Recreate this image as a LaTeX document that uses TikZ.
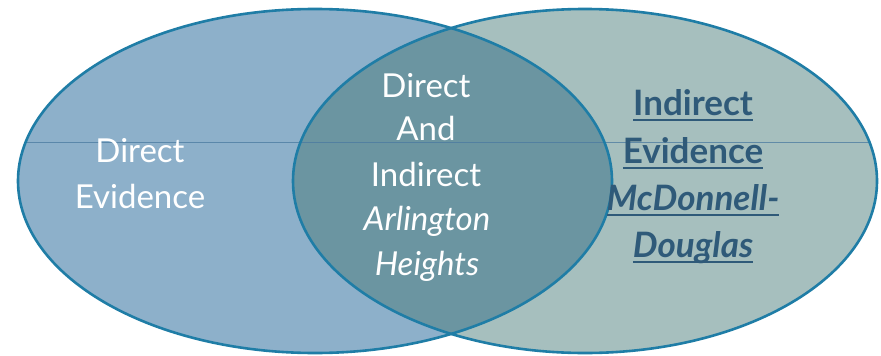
\documentclass[tikz,border=0pt]{standalone}
\usepackage{fontspec}
\setmainfont{Lato}
\definecolor{leftfill}{HTML}{8DB0CA}
\definecolor{rightfill}{HTML}{A6BFBE}
\definecolor{midfill}{HTML}{6B95A1}
\definecolor{edge}{HTML}{1F7DA6}
\definecolor{darktext}{HTML}{2F5A79}
\definecolor{midline}{HTML}{4A7AA0}
\newcommand{\myul}[1]{\setbox0\hbox{#1}\rlap{\rule[-6pt]{\wd0}{2.4pt}}\box0}
\tikzset{
  outline/.style={draw=edge, line width=2.6pt},
  lighttxt/.style={anchor=base, text=white, inner sep=0pt, font=\fontsize{33}{40}\selectfont},
  darktxt/.style={anchor=base, text=darktext, inner sep=0pt, font=\fontsize{35}{40}\selectfont\bfseries},
}
\begin{document}
\begin{tikzpicture}[x=1pt,y=-1pt]
\useasboundingbox (0,0) rectangle (881,356);
\fill[white] (0,0) rectangle (881,356);
% fills
\fill[leftfill] (315,181) ellipse [x radius=297pt, y radius=172pt];
\fill[rightfill] (585,181) ellipse [x radius=292pt, y radius=172pt];
\begin{scope}
  \clip (315,181) ellipse [x radius=297pt, y radius=172pt];
  \fill[midfill] (585,181) ellipse [x radius=292pt, y radius=172pt];
\end{scope}
% thin horizontal line
\coordinate (hl) at (26,142);
\coordinate (hr) at (869,142);
\draw[midline, opacity=0.75, line width=1pt] (hl) -- (hr);
% outlines
\draw[outline] (315,181) ellipse [x radius=297pt, y radius=172pt];
\draw[outline] (585,181) ellipse [x radius=292pt, y radius=172pt];
% left text
\node[lighttxt] (l1) at (140,162) {Direct};
\node[lighttxt] (l2) at (140,208) {Evidence};
% center text
\node[lighttxt] (c1) at (426,97) {Direct};
\node[lighttxt] (c2) at (426,140) {And};
\node[lighttxt] (c3) at (426,186) {Indirect};
\node[lighttxt] (c4) at (427,230) {\itshape Arlington};
\node[lighttxt] (c5) at (427,275) {\itshape Heights};
% right text
\node[darktxt] (r1) at (693,115) {\myul{Indirect}};
\node[darktxt] (r2) at (693,163) {\myul{Evidence}};
\node[darktxt] (r3) at (693,210) {\myul{\itshape McDonnell-}};
\node[darktxt] (r4) at (693,257) {\myul{\itshape Douglas}};
\end{tikzpicture}
\end{document}
